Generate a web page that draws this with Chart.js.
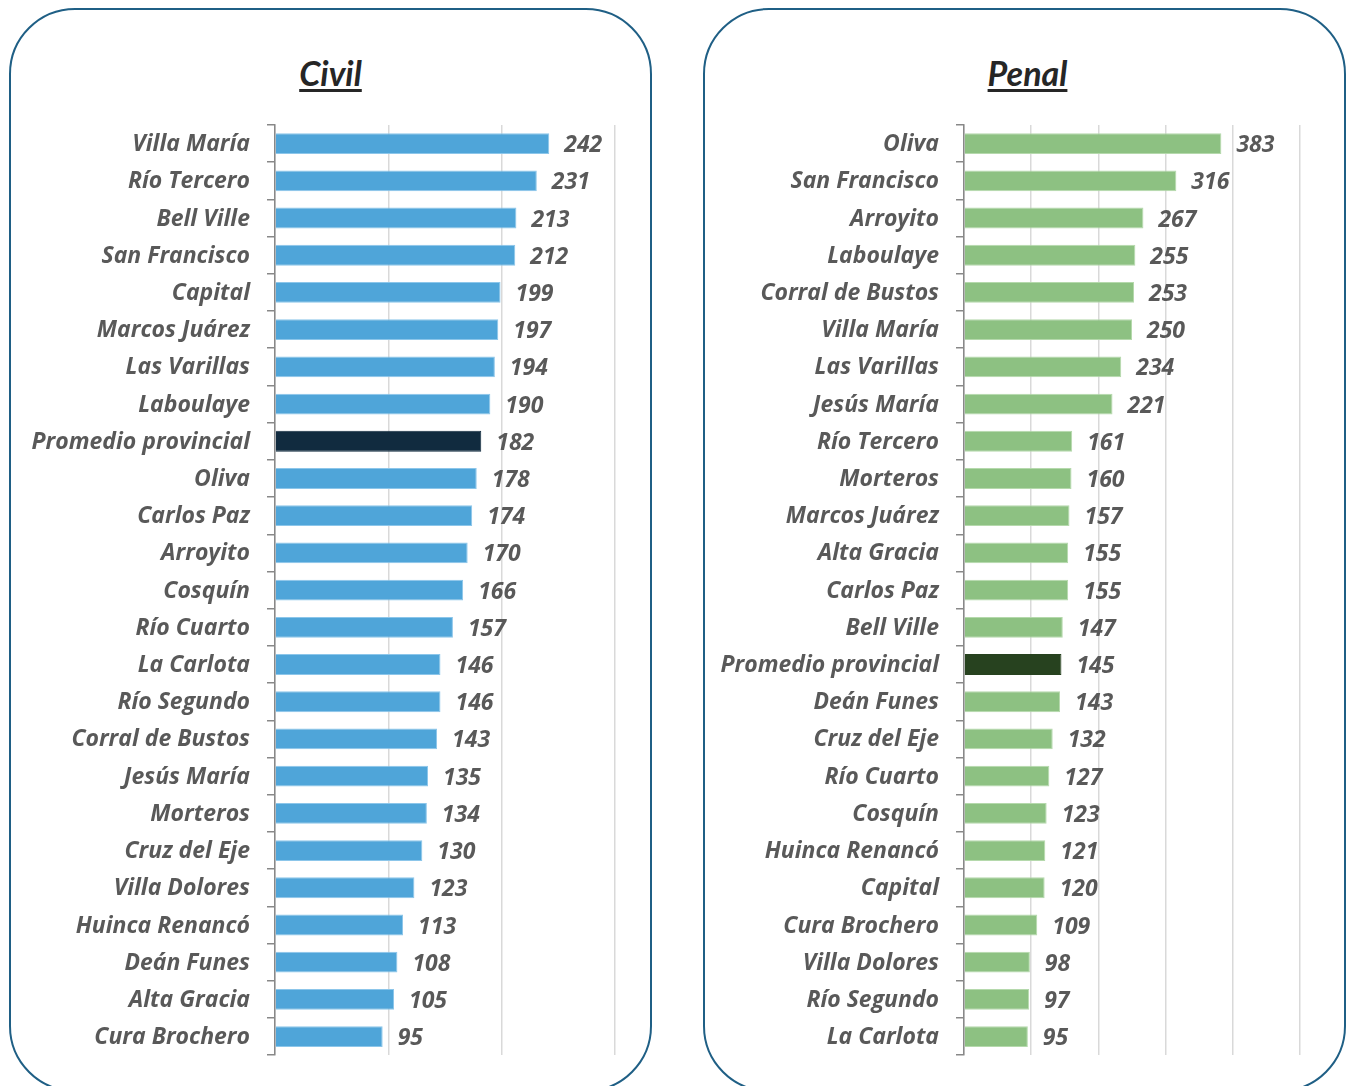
<!DOCTYPE html>
<html>
<head>
<meta charset="utf-8">
<script src="https://cdn.jsdelivr.net/npm/chart.js@4/dist/chart.umd.min.js"></script>
<style>
  body { margin: 0; width: 1352px; height: 1086px; background: #fff; overflow: hidden; position: relative; font-family: Lato, sans-serif; }
  .panel { position: absolute; top: 8px; width: 643px; height: 1084px; border: 2.5px solid #1f5f85; border-radius: 66px; box-sizing: border-box; }
  .title { position: absolute; top: 56px; width: 643px; text-align: center; font: italic bold 34px/34px Lato, sans-serif; color: #262626;
           text-decoration: underline; text-decoration-thickness: 2.5px; text-underline-offset: 3px; }
  canvas { position: absolute; top: 0; }
</style>
</head>
<body>
<div class="panel" style="left:9px"></div>
<div class="panel" style="left:703px"></div>
<div class="title" style="left:9px">Civil</div>
<div class="title" style="left:706px">Penal</div>
<canvas id="civilChart" width="676" height="1086" style="left:0"></canvas>
<canvas id="penalChart" width="676" height="1086" style="left:676px"></canvas>
<script>
// Civil
const civilLabels = ["Villa María", "Río Tercero", "Bell Ville", "San Francisco", "Capital", "Marcos Juárez",
  "Las Varillas", "Laboulaye", "Promedio provincial", "Oliva", "Carlos Paz", "Arroyito", "Cosquín",
  "Río Cuarto", "La Carlota", "Río Segundo", "Corral de Bustos", "Jesús María", "Morteros",
  "Cruz del Eje", "Villa Dolores", "Huinca Renancó", "Deán Funes", "Alta Gracia", "Cura Brochero"];
const civilValues = [242, 231, 213, 212, 199, 197, 194, 190, 182, 178, 174, 170, 166, 157, 146, 146, 143, 135, 134, 130, 123, 113, 108, 105, 95];

// Penal
const penalLabels = ["Oliva", "San Francisco", "Arroyito", "Laboulaye", "Corral de Bustos", "Villa María",
  "Las Varillas", "Jesús María", "Río Tercero", "Morteros", "Marcos Juárez", "Alta Gracia", "Carlos Paz",
  "Bell Ville", "Promedio provincial", "Deán Funes", "Cruz del Eje", "Río Cuarto", "Cosquín",
  "Huinca Renancó", "Capital", "Cura Brochero", "Villa Dolores", "Río Segundo", "La Carlota"];
const penalValues = [383, 316, 267, 255, 253, 250, 234, 221, 161, 160, 157, 155, 155, 147, 145, 143, 132, 127, 123, 121, 120, 109, 98, 97, 95];

const civilMax = 300;
const penalMax = 500;
const highlight = "Promedio provincial";
const labelFont = "Open Sans";

// numbers at the end of each bar
const valueLabels = {
  id: "valueLabels",
  afterDatasetsDraw(chart) {
    const ctx = chart.ctx;
    const meta = chart.getDatasetMeta(0);
    ctx.save();
    ctx.font = "italic bold 23px '" + labelFont + "'";
    ctx.fillStyle = "#595959";
    ctx.textBaseline = "middle";
    ctx.textAlign = "left";
    meta.data.forEach((bar, i) => {
      ctx.fillText(chart.data.datasets[0].data[i], bar.x + 15, bar.y + 2);
    });
    ctx.restore();
  }
};

function makeChart(id, labels, values, max, color, hiColor, edge, axisLeft, axisRight) {
  new Chart(document.getElementById(id), {
    type: "bar",
    data: {
      labels: labels,
      datasets: [{
        data: values,
        backgroundColor: labels.map(l => l === highlight ? hiColor : color),
        borderColor: labels.map(l => l === highlight ? hiColor : edge),
        borderWidth: 1,
        barPercentage: 0.56,
        categoryPercentage: 1
      }]
    },
    options: {
      indexAxis: "y",
      responsive: false,
      animation: false,
      layout: { padding: { left: 0, right: 676 - axisRight, top: 125, bottom: 27 } },
      plugins: { legend: { display: false }, tooltip: { enabled: false } },
      scales: {
        x: {
          min: 0, max: max,
          ticks: { display: false, stepSize: 100 },
          grid: { color: "#d9d9d9", lineWidth: 1.5, drawTicks: false },
          border: { display: false },
          afterFit(s) { s.height = 0; }
        },
        y: {
          grid: { drawOnChartArea: false, tickLength: 8, color: "#888", lineWidth: 1.5 },
          border: { color: "#888", width: 1.5 },
          ticks: { color: "#595959", font: { family: labelFont, size: 23, style: "italic", weight: "bold" }, padding: 17, labelOffset: 1, autoSkip: false },
          afterFit(s) { s.width = axisLeft; }
        }
      }
    },
    plugins: [valueLabels]
  });
}

Promise.all([
  document.fonts.load("italic bold 23px '" + labelFont + "'"),
  document.fonts.load("italic bold 34px Lato")
]).then(() => {
  makeChart("civilChart", civilLabels, civilValues, civilMax, "#4fa5d9", "#112b3f", "#8cc6ea", 275, 615);
  makeChart("penalChart", penalLabels, penalValues, penalMax, "#8dc182", "#27421f", "#b5d9ac", 288, 624);
});
</script>
</body>
</html>
